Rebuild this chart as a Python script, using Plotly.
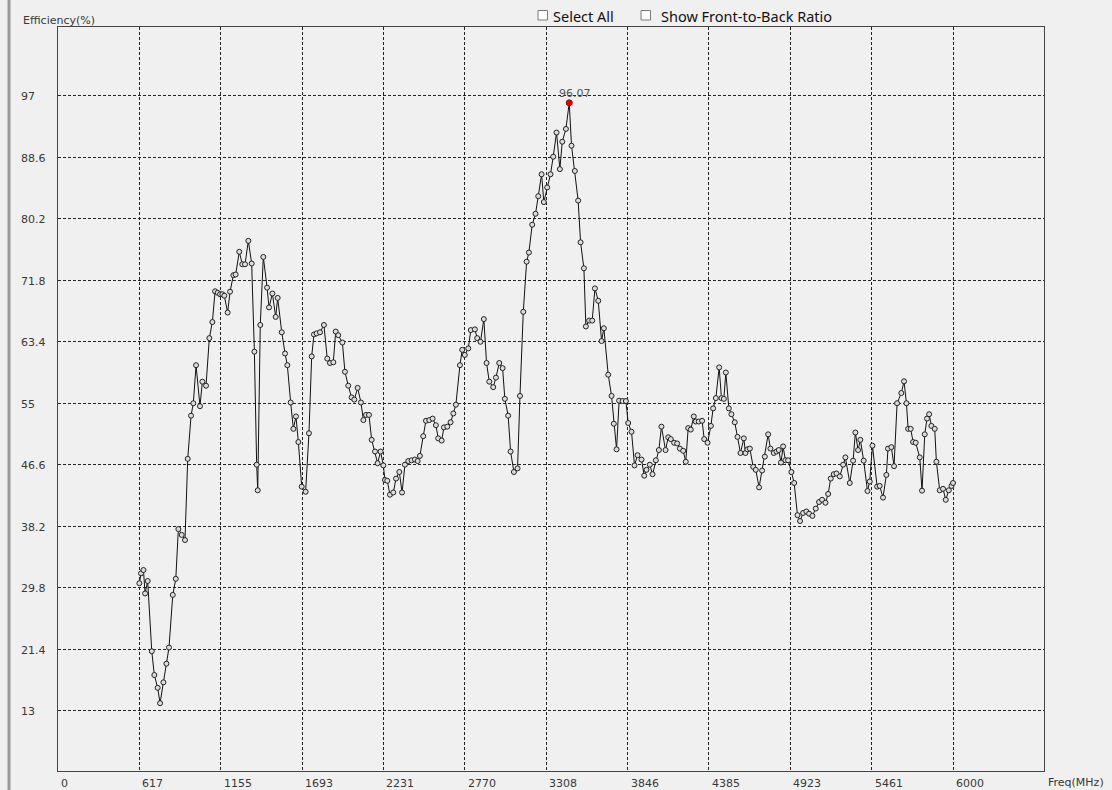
import plotly.graph_objects as go

# ---------------- data ----------------
freq_mhz = [617, 628, 644, 655, 672, 699, 716, 738, 754, 776, 796, 813, 838, 858, 875, 897, 919, 937, 959, 974,
            992, 1018, 1034, 1058, 1080, 1100, 1118, 1135, 1151, 1166, 1179, 1201, 1217, 1239, 1254, 1278, 1298, 1316, 1338, 1360,
            1378, 1393, 1400, 1417, 1437, 1462, 1475, 1497, 1519, 1532, 1559, 1581, 1596, 1618, 1636, 1653, 1669, 1691, 1717, 1739, 1757,
            1772, 1790, 1812, 1838, 1860, 1878, 1900, 1916, 1933, 1960, 1977, 1999, 2021, 2039, 2061, 2083, 2099, 2116, 2136, 2154,
            2176, 2193, 2213, 2231, 2242, 2257, 2275, 2297, 2315, 2337, 2355, 2374, 2396, 2418, 2440, 2458, 2473, 2495, 2513, 2535,
            2557, 2579, 2594, 2617, 2632, 2654, 2676, 2694, 2711, 2738, 2753, 2770, 2793, 2810, 2837, 2852, 2874, 2896, 2914, 2932,
            2958, 2976, 2998, 3020, 3035, 3057, 3073, 3095, 3119, 3135, 3157, 3179, 3194, 3216, 3238, 3256, 3278, 3293, 3315, 3337,
            3355, 3377, 3399, 3415, 3439, 3461, 3476, 3498, 3520, 3536, 3558, 3571, 3593, 3613, 3631, 3653, 3675, 3690, 3719, 3741,
            3756, 3774, 3791, 3814, 3836, 3851, 3873, 3893, 3913, 3939, 3957, 3972, 3994, 4012, 4034, 4054, 4071, 4098, 4116, 4133,
            4155, 4175, 4193, 4215, 4232, 4248, 4265, 4285, 4298, 4318, 4340, 4354, 4376, 4398, 4413, 4431, 4453, 4468, 4484, 4497,
            4517, 4534, 4556, 4574, 4594, 4616, 4627, 4640, 4656, 4678, 4695, 4717, 4737, 4755, 4777, 4792, 4814, 4832, 4847, 4862,
            4876, 4891, 4909, 4931, 4949, 4971, 4988, 5008, 5030, 5048, 5070, 5092, 5114, 5134, 5156, 5174, 5191, 5211, 5229, 5251,
            5273, 5288, 5317, 5339, 5354, 5372, 5387, 5409, 5434, 5449, 5467, 5498, 5515, 5537, 5559, 5570, 5592, 5610, 5630, 5658,
            5676, 5692, 5703, 5720, 5736, 5753, 5780, 5795, 5813, 5828, 5842, 5857, 5879, 5890, 5912, 5934, 5952, 5972, 5990, 6000]

efficiency = [30.4, 31.75, 32.2, 29.0, 30.7, 21.1, 17.85, 16.1, 14.0, 16.85, 19.4, 21.6, 28.8, 31.0, 37.8, 37.0, 36.3, 47.4, 53.3, 55.0,
              60.2, 54.6, 57.95, 57.4, 63.9, 66.1, 70.3, 70.1, 69.9, 69.9, 69.7, 67.4, 70.25, 72.5, 72.6, 75.7, 74.0, 74.0, 77.2, 74.1,
              62.05, 46.6, 43.1, 65.7, 75.0, 70.8, 68.1, 70.0, 66.8, 69.4, 64.7, 61.8, 60.2, 55.1, 51.5, 53.2, 49.7, 43.6, 42.9, 50.9, 61.4,
              64.4, 64.55, 64.7, 65.7, 61.1, 60.5, 60.6, 64.8, 64.3, 63.3, 59.3, 57.4, 55.8, 55.5, 57.1, 55.1, 52.7, 53.4, 53.4, 50.0,
              48.4, 46.8, 48.4, 46.5, 44.5, 44.4, 42.5, 42.8, 44.7, 45.6, 42.8, 46.6, 47.1, 47.2, 47.3, 47.1, 47.8, 50.5, 52.6, 52.7,
              52.9, 52.0, 50.2, 49.9, 51.7, 51.8, 52.4, 53.6, 54.8, 60.2, 62.3, 61.6, 62.5, 65.0, 65.1, 63.9, 63.4, 66.5, 60.5, 57.95,
              57.2, 58.5, 60.5, 59.8, 55.6, 53.3, 48.4, 45.6, 46.1, 56.0, 67.5, 74.35, 75.6, 79.4, 80.9, 83.3, 86.3, 82.5, 84.5, 86.3,
              88.7, 92.0, 87.0, 90.75, 92.5, 96.07, 90.2, 86.75, 82.7, 77.0, 73.45, 65.5, 66.3, 66.3, 70.7, 69.0, 63.5, 65.25, 58.9, 56.0,
              52.2, 48.7, 55.35, 55.3, 55.3, 52.3, 51.1, 46.5, 47.9, 47.3, 45.1, 45.9, 46.6, 45.3, 47.2, 48.6, 51.8, 48.6, 50.35, 50.1,
              49.6, 49.5, 48.8, 48.5, 47.0, 51.6, 51.4, 53.2, 52.5, 52.5, 52.6, 50.1, 49.6, 51.9, 54.3, 55.7, 59.9, 55.7, 55.6, 59.2,
              54.3, 53.5, 52.4, 50.4, 48.2, 50.2, 48.2, 48.7, 48.8, 46.3, 45.9, 43.5, 45.8, 47.7, 50.75, 48.8, 48.2, 48.4, 48.6, 46.9,
              49.1, 47.2, 47.2, 45.6, 44.1, 39.7, 38.9, 40.0, 40.2, 39.9, 39.6, 40.6, 41.5, 41.8, 41.4, 42.6, 44.7, 45.3, 45.4, 45.0,
              46.6, 47.6, 44.1, 47.15, 51.0, 48.6, 50.0, 47.15, 43.0, 44.3, 49.2, 43.6, 43.7, 42.1, 45.2, 48.8, 49.0, 46.4, 55.0, 56.4,
              58.0, 55.0, 51.5, 51.5, 49.7, 49.6, 47.6, 43.05, 50.75, 52.9, 53.5, 51.9, 51.5, 47.0, 43.1, 43.3, 41.8, 43.1, 43.7, 44.1]

peak_freq = 3461
peak_value = 96.07

x_tick_pos = [78.7, 617, 1155.3, 1693.6, 2231.9, 2770.2, 3308.5, 3846.8, 4385.1, 4923.4, 5461.7, 6000]
x_tick_text = ["0", "617", "1155", "1693", "2231", "2770", "3308", "3846", "4385", "4923", "5461", "6000"]
y_tick_vals = [13, 21.4, 29.8, 38.2, 46.6, 55, 63.4, 71.8, 80.2, 88.6, 97]
y_tick_text = ["13", "21.4", "29.8", "38.2", "46.6", "55", "63.4", "71.8", "80.2", "88.6", "97"]

x_title = "Freq(MHz)"
y_title = "Efficiency(%)"
checkbox_labels = ["Select All", "Show Front-to-Back Ratio"]

# ---------------- layout geometry ----------------
W, H = 1112, 790
ML, MR, MT, MB = 58, 68, 27, 19
PW, PH = W - ML - MR, H - MT - MB


def px_x(p):
    return (p - ML) / PW


def px_y(p):
    return 1 - (p - MT) / PH


BG = "#f0f0f0"
TXT = "#383838"
FONT = "DejaVu Sans"
UI_FONT = "Noto Sans"

fig = go.Figure()

fig.add_trace(go.Scatter(
    x=freq_mhz, y=efficiency, mode="lines+markers",
    line=dict(color="#111111", width=1),
    marker=dict(symbol="circle", size=5, color="#dcdcdc",
                line=dict(color="#222222", width=1)),
    showlegend=False, hoverinfo="x+y",
))
fig.add_trace(go.Scatter(
    x=[peak_freq], y=[peak_value], mode="markers",
    marker=dict(symbol="circle", size=6, color="#e00000",
                line=dict(color="#c00000", width=1)),
    showlegend=False,
))

annotations = []
# x tick labels (left-aligned at each grid line, as in the reference)
for pos, txt in zip(x_tick_pos, x_tick_text):
    annotations.append(dict(x=pos, xref="x", y=0, yref="paper", text=txt,
                            xanchor="left", yanchor="top", xshift=1, yshift=-4,
                            showarrow=False, font=dict(family=FONT, size=11, color=TXT)))
# y tick labels (left-aligned at the window edge)
for val, txt in zip(y_tick_vals, y_tick_text):
    annotations.append(dict(x=px_x(19), xref="paper", y=val, yref="y", text=txt,
                            xanchor="left", yanchor="middle", yshift=-1,
                            showarrow=False, font=dict(family=FONT, size=11, color=TXT)))
annotations.append(dict(x=px_x(21), xref="paper", y=px_y(20.5), yref="paper", text=y_title,
                        xanchor="left", yanchor="middle", showarrow=False,
                        font=dict(family=FONT, size=11, color=TXT)))
annotations.append(dict(x=px_x(1046), xref="paper", y=px_y(782), yref="paper", text=x_title,
                        xanchor="left", yanchor="middle", showarrow=False,
                        font=dict(family=FONT, size=11, color=TXT)))
annotations.append(dict(x=peak_freq, xref="x", y=peak_value, yref="y", text=f"{peak_value:.2f}",
                        xanchor="center", yanchor="bottom", xshift=6, yshift=1,
                        showarrow=False, font=dict(family=FONT, size=11, color="#555555")))
# checkbox labels
annotations.append(dict(x=px_x(551), xref="paper", y=px_y(16), yref="paper", text=checkbox_labels[0],
                        xanchor="left", yanchor="middle", showarrow=False,
                        font=dict(family=UI_FONT, size=14.5, color="#111111")))
annotations.append(dict(x=px_x(659), xref="paper", y=px_y(16), yref="paper", text=checkbox_labels[1],
                        xanchor="left", yanchor="middle", showarrow=False,
                        font=dict(family=UI_FONT, size=14.5, color="#111111")))

shapes = [
    # window frame bar on the left
    dict(type="rect", xref="paper", yref="paper", x0=px_x(7.5), x1=px_x(10.5), y0=px_y(H), y1=px_y(0),
         fillcolor="#9a9a9a", line=dict(width=0), layer="above"),
    # checkboxes
    dict(type="rect", xref="paper", yref="paper", x0=px_x(538), x1=px_x(547.5), y0=px_y(20), y1=px_y(10.5),
         fillcolor="#ffffff", line=dict(color="#7a7a7a", width=1)),
    dict(type="rect", xref="paper", yref="paper", x0=px_x(641), x1=px_x(650.5), y0=px_y(20), y1=px_y(10.5),
         fillcolor="#ffffff", line=dict(color="#7a7a7a", width=1)),
]

fig.update_layout(
    width=W, height=H,
    margin=dict(l=ML, r=MR, t=MT, b=MB, pad=0),
    paper_bgcolor=BG, plot_bgcolor=BG,
    font=dict(family=FONT, size=11, color=TXT),
    annotations=annotations, shapes=shapes,
    showlegend=False,
)
fig.update_xaxes(range=[78.7, 6602], tickmode="array", tickvals=x_tick_pos, showticklabels=False,
                 ticks="", showgrid=True, gridcolor="#222222", gridwidth=1, griddash="3px,2px",
                 showline=True, linecolor="#444444", linewidth=1, mirror=True, zeroline=False)
fig.update_yaxes(range=[4.73, 106.43], tickmode="array", tickvals=y_tick_vals, showticklabels=False,
                 ticks="", showgrid=True, gridcolor="#222222", gridwidth=1, griddash="3px,2px",
                 showline=True, linecolor="#444444", linewidth=1, mirror=True, zeroline=False)

fig.write_html("out.html", config={"displayModeBar": False},
               post_script="document.body.style.margin='0';document.body.style.overflow='hidden';")
